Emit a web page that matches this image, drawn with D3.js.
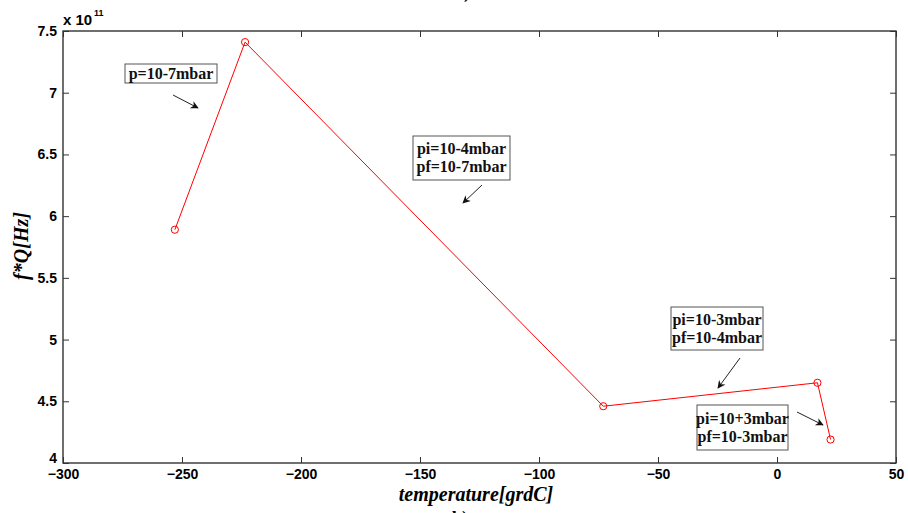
<!DOCTYPE html>
<html><head><meta charset="utf-8">
<script src="https://cdn.jsdelivr.net/npm/d3@7/dist/d3.min.js"></script>
<style>body{margin:0;background:#fff}svg{display:block}</style>
</head><body>
<svg id="c" width="908" height="513"></svg>
<script>
const temps = [-253, -223.5, -73, 17, 22.5];
const fq = [5.89, 7.41, 4.46, 4.65, 4.19];
const xTicks = [-300, -250, -200, -150, -100, -50, 0, 50];
const yTicks = [4, 4.5, 5, 5.5, 6, 6.5, 7, 7.5];
const notes = [
  {lines: ["p=10-7mbar"], box: [125, 64, 217, 83], arrow: [173, 95, 198, 108]},
  {lines: ["pi=10-4mbar", "pf=10-7mbar"], box: [413, 136, 510, 180], arrow: [482, 185, 463, 203]},
  {lines: ["pi=10-3mbar", "pf=10-4mbar"], box: [671, 307, 763, 350], arrow: [740, 358, 718, 388]},
  {lines: ["pi=10+3mbar", "pf=10-3mbar"], box: [697, 405, 788, 450], arrow: [797, 412, 823, 425]}
];

const svg = d3.select("#c");
const L = 63, R = 896, T = 31, B = 463;
const x = d3.scaleLinear().domain([-300, 50]).range([L, R]);
const y = d3.scaleLinear().domain([4, 7.5]).range([B, T]);

svg.append("rect").attr("x", L).attr("y", T).attr("width", R - L).attr("height", B - T)
  .attr("fill", "#fff").attr("stroke", "#222").attr("stroke-width", 1.3);

const tickFont = "bold 14px 'Liberation Sans', Arial, sans-serif";
const xb = svg.append("g").attr("transform", `translate(0,${B})`)
  .call(d3.axisBottom(x).tickValues(xTicks).tickSize(-6).tickPadding(8).tickFormat(d3.format("d")));
const xt = svg.append("g").attr("transform", `translate(0,${T})`)
  .call(d3.axisTop(x).tickValues(xTicks).tickSize(-6).tickFormat(""));
const yl = svg.append("g").attr("transform", `translate(${L},0)`)
  .call(d3.axisLeft(y).tickValues(yTicks).tickSize(-6).tickPadding(6).tickFormat(d => d3.format("")(d)));
const yr = svg.append("g").attr("transform", `translate(${R},0)`)
  .call(d3.axisRight(y).tickValues(yTicks).tickSize(-6).tickFormat(""));
[xb, xt, yl, yr].forEach(g => {
  g.select(".domain").remove();
  g.selectAll("line").attr("stroke", "#333");
  g.selectAll("text").style("font", tickFont).attr("fill", "#000");
});
xb.selectAll("text").attr("dy", "0.6em");
yl.selectAll(".tick").filter(d => d === 4).select("text").attr("dy", "-0.05em");

svg.append("text").attr("x", 63).attr("y", 25).style("font", "bold 15px 'Liberation Sans', Arial, sans-serif").text("x 10");
svg.append("text").attr("x", 94).attr("y", 16).style("font", "bold 9px 'Liberation Sans', Arial, sans-serif").text("11");

svg.append("text").attr("x", 476).attr("y", 501).attr("text-anchor", "middle")
  .style("font", "italic bold 20px 'Liberation Serif', 'Times New Roman', serif").text("temperature[grdC]");
svg.append("text").attr("transform", "translate(28,246) rotate(-90)").attr("text-anchor", "middle")
  .style("font", "italic bold 20px 'Liberation Serif', 'Times New Roman', serif").text("f*Q[Hz]");

// partial captions from neighbouring figures (cut off in the reference too)
svg.append("text").attr("x", 455).attr("y", -2).style("font", "bold 18px 'Liberation Serif', serif").text("a)");
svg.append("text").attr("x", 452).attr("y", 524).style("font", "bold 18px 'Liberation Serif', serif").text("b)");

const pts = temps.map((t, i) => [x(t), y(fq[i])]);
svg.append("path").attr("d", d3.line()(pts)).attr("fill", "none").attr("stroke", "#ff0000").attr("stroke-width", 1);
svg.selectAll("circle.m").data(pts).join("circle").attr("class", "m")
  .attr("cx", d => d[0]).attr("cy", d => d[1]).attr("r", 3.6)
  .attr("fill", "none").attr("stroke", "#ff0000").attr("stroke-width", 1);

svg.append("defs").append("marker").attr("id", "ah").attr("viewBox", "0 0 10 10")
  .attr("refX", 9).attr("refY", 5).attr("markerWidth", 10).attr("markerHeight", 8)
  .attr("markerUnits", "userSpaceOnUse").attr("orient", "auto")
  .append("path").attr("d", "M0,0 L10,5 L0,10 L3,5 Z").attr("fill", "#111");

notes.forEach(n => {
  const [x0, y0, x1, y1] = n.box;
  svg.append("rect").attr("x", x0).attr("y", y0).attr("width", x1 - x0).attr("height", y1 - y0)
    .attr("fill", "#fff").attr("stroke", "#555").attr("stroke-width", 1);
  const nl = n.lines.length;
  n.lines.forEach((s, i) => {
    svg.append("text").attr("x", (x0 + x1) / 2).attr("y", (y0 + y1) / 2 + (i - (nl - 1) / 2) * 18)
      .attr("dy", "0.33em").attr("text-anchor", "middle")
      .style("font", "bold 16px 'Liberation Serif', 'Times New Roman', serif").attr("fill", "#111").text(s);
  });
  const [a0, b0, a1, b1] = n.arrow;
  svg.append("line").attr("x1", a0).attr("y1", b0).attr("x2", a1).attr("y2", b1)
    .attr("stroke", "#222").attr("stroke-width", 1).attr("marker-end", "url(#ah)");
});
</script>
</body></html>
